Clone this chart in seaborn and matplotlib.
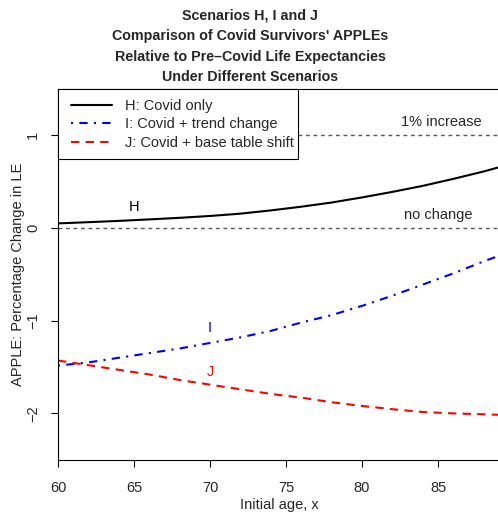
import matplotlib
matplotlib.use("Agg")
import matplotlib.pyplot as plt
import seaborn as sns
import pandas as pd
from matplotlib.lines import Line2D
from matplotlib.patches import Rectangle

# ---- data ----
ages = [60, 62, 64, 66, 68, 70, 72, 74, 76, 78, 80, 82, 84, 86, 88, 89]
h_vals = [0.05, 0.063, 0.077, 0.093, 0.11, 0.13, 0.155, 0.19, 0.23, 0.275, 0.33, 0.39, 0.455, 0.53, 0.61, 0.655]
i_vals = [-1.485, -1.45, -1.40, -1.35, -1.30, -1.24, -1.18, -1.11, -1.02, -0.94, -0.84, -0.73, -0.61, -0.49, -0.36, -0.30]
j_vals = [-1.43, -1.48, -1.53, -1.58, -1.64, -1.69, -1.74, -1.79, -1.83, -1.88, -1.92, -1.955, -1.985, -2.0, -2.01, -2.015]
series_labels = ["H: Covid only", "I: Covid + trend change", "J: Covid + base table shift"]
title_lines = ["Scenarios H, I and J",
               "Comparison of Covid Survivors' APPLEs",
               "Relative to Pre\u2013Covid Life Expectancies",
               "Under Different Scenarios"]
x_ticks = [60, 65, 70, 75, 80, 85]
y_ticks = [-2, -1, 0, 1]
y_tick_labels = ["\u22122", "\u22121", "0", "1"]

sns.set_style("white")
plt.rcParams["font.family"] = ["Liberation Sans", "DejaVu Sans"]

W, H = 498, 512
FS = 10.5
fig = plt.figure(figsize=(W / 100, H / 100), dpi=100)
ax = fig.add_axes([58 / W, 1 - 460 / H, (W - 58) / W, (460 - 89) / H])

df = pd.DataFrame({"age": ages, "H": h_vals, "I": i_vals, "J": j_vals})

lw = 1.5
dashdot = (0, (1, 3, 4, 3))
dashed = (0, (4, 3))
sns.lineplot(data=df, x="age", y="H", color="black", linewidth=lw, ax=ax)
sns.lineplot(data=df, x="age", y="I", color="#0000ff", linewidth=lw, ax=ax)
sns.lineplot(data=df, x="age", y="J", color="#ff0000", linewidth=lw, ax=ax)
lines = ax.get_lines()
lines[0].set_linestyle("-")
lines[1].set_linestyle(dashdot)
lines[2].set_linestyle(dashed)

ax.axhline(0, color="#555555", lw=1, linestyle=(0, (2.7, 2.7)))
ax.axhline(1, color="#555555", lw=1, linestyle=(0, (2.7, 2.7)))

ax.text(85.2, 1.14, "1% increase", ha="center", va="center", fontsize=FS)
ax.text(85.0, 0.14, "no change", ha="center", va="center", fontsize=FS)
ax.text(65, 0.23, "H", ha="center", va="center", fontsize=FS, color="black")
ax.text(70, -1.08, "I", ha="center", va="center", fontsize=FS, color="#0000ff")
ax.text(70, -1.55, "J", ha="center", va="center", fontsize=FS, color="#ff0000")

ax.set_xlim(60, 60 + (W - 58) / 15.2)
ax.set_ylim(-2.503, 1.50)
ax.set_xticks(x_ticks)
ax.set_xticklabels([str(t) for t in x_ticks], fontsize=FS)
ax.set_yticks(y_ticks)
ax.set_yticklabels(y_tick_labels, fontsize=FS, rotation=90, va="center")
ax.tick_params(axis="x", direction="out", length=5, width=0.8, color="black", bottom=True, pad=10)
ax.tick_params(axis="y", direction="out", length=5, width=0.8, color="black", left=True, pad=8)
ax.set_xlabel("")
ax.set_ylabel("")
for s in ["left", "bottom", "top"]:
    ax.spines[s].set_color("black")
    ax.spines[s].set_linewidth(0.8)
ax.spines["right"].set_visible(False)

# legend box drawn in figure pixels, entries placed inside
fig.add_artist(Rectangle((58 / W, 1 - 159 / H), (298 - 58) / W, (159 - 89) / H,
                         transform=fig.transFigure, facecolor="white",
                         edgecolor="black", linewidth=0.8, zorder=5))
handles = [Line2D([], [], color="black", lw=lw, linestyle="-"),
           Line2D([], [], color="#0000ff", lw=lw, linestyle=dashdot),
           Line2D([], [], color="#ff0000", lw=lw, linestyle=dashed)]
leg = fig.legend(handles, series_labels, loc="upper left",
                 bbox_to_anchor=(71 / W, 1 - 99 / H), bbox_transform=fig.transFigure,
                 borderaxespad=0, borderpad=0, fontsize=FS, handlelength=2.81,
                 handletextpad=0.89, labelspacing=0.3, frameon=False)
leg.set_zorder(6)

ys = [15, 36, 57, 77]
for t, y in zip(title_lines, ys):
    fig.text(250 / W, 1 - y / H, t, ha="center", va="center", fontsize=10.3, fontweight="bold")

fig.text(279 / W, 1 - 505 / H, "Initial age, x", ha="center", va="center", fontsize=FS)
fig.text(18 / W, 1 - 274.5 / H, "APPLE: Percentage Change in LE", ha="center", va="center",
         rotation=90, fontsize=FS)

fig.savefig("out.png", dpi=100)
